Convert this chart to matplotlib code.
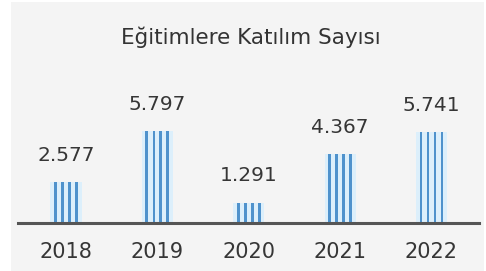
import numpy as np
import matplotlib.pyplot as plt
from matplotlib.patches import Rectangle

# ----------------------------------------------
# Data
# ----------------------------------------------

years = ["2018", "2019", "2020", "2021", "2022"]
values = [2577, 5797, 1291, 4367, 5741]
value_labels = ["2.577", "5.797", "1.291", "4.367", "5.741"]
title = "Eğitimlere Katılım Sayısı"

# ----------------------------------------------
# Figure
# ----------------------------------------------

W, H = 486, 271
fig = plt.figure(figsize=(W / 100, H / 100), dpi=100, facecolor="white")

# light grey panel
fig.patches.append(Rectangle((11 / W, 0), (484 - 11) / W, 1 - 2 / H,
                             transform=fig.transFigure, facecolor="#f4f4f4",
                             edgecolor="none", zorder=-10))

ax = fig.add_axes([18 / W, 48 / H, (479 - 18) / W, 213 / H])
ax.set_facecolor("none")

x = np.arange(len(years))
ax.set_xlim(-0.525, 4.52)
ax.set_ylim(0, 213 / 0.0158)

# soft background of each bar
ax.bar(x, values, width=0.34, color="#dceffb", zorder=1)

# vertical stripes
offsets = [-0.115, -0.038, 0.038, 0.115]
for off in offsets:
    ax.bar(x + off, values, width=0.03, color="#4f92cc", zorder=2)

ax.axhline(0, color="#555555", lw=2.2, zorder=3, clip_on=False)

for xi, v, lab in zip(x, values, value_labels):
    ax.annotate(lab, (xi, v), xytext=(0, 12.5), textcoords="offset points",
                ha="center", va="bottom", fontsize=14.5, color="#363636")

ax.set_xticks(x)
ax.set_xticklabels(years, fontsize=15, color="#363636")
ax.tick_params(axis="x", length=0, pad=14)
ax.set_yticks([])
for s in ax.spines.values():
    s.set_visible(False)

fig.text(250.5 / W, 1 - 37 / H, title, ha="center", va="center",
         fontsize=15.5, color="#333333")

fig.savefig("out.png", dpi=100, facecolor=fig.get_facecolor())
